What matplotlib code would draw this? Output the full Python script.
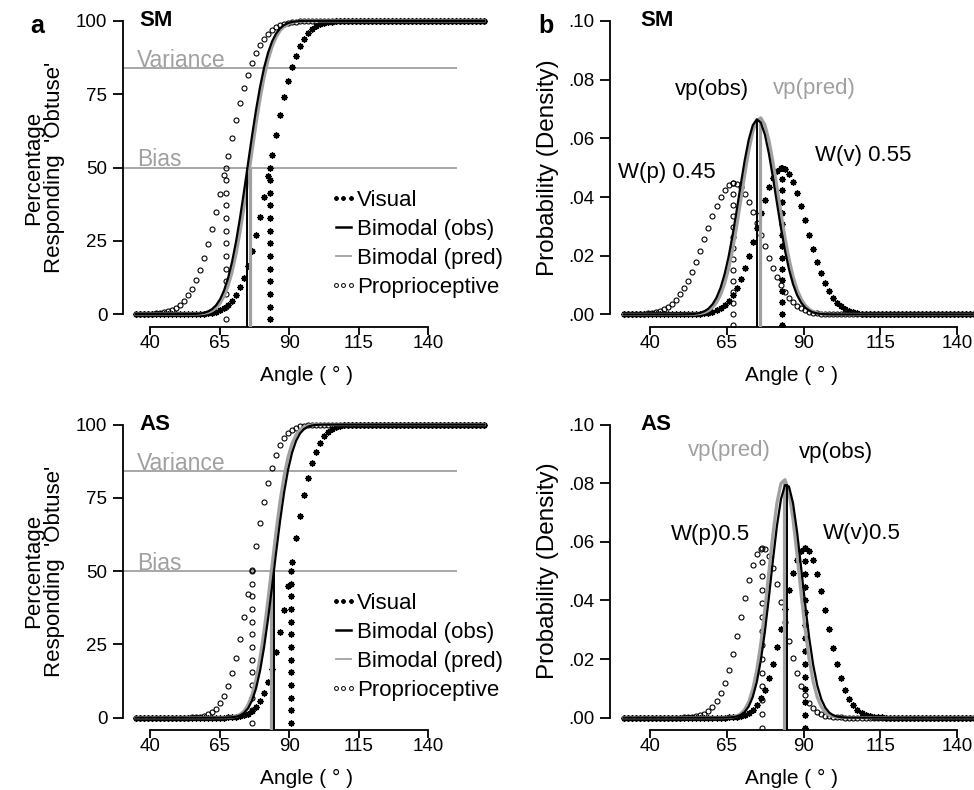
import math
import numpy as np
import matplotlib
matplotlib.use("Agg")
import matplotlib.pyplot as plt
from matplotlib.lines import Line2D
from matplotlib.legend_handler import HandlerLine2D
from matplotlib import transforms

plt.rcParams["font.family"] = ["Liberation Sans", "DejaVu Sans"]

# Fitted cumulative-Gaussian parameters per subject (deg)
subjects = ["SM", "AS"]
visual_mu = [83.0, 90.5]
visual_sd = [8.0, 6.9]
prop_mu = [67.2, 76.6]
prop_sd = [8.9, 6.9]
obs_mu = [75.0, 84.5]
obs_sd = [6.0, 5.0]
pred_mu = [75.8, 83.6]
pred_sd = [5.95, 4.9]

# weight labels shown in panel b
w_p_labels = ["W(p) 0.45", "W(p)0.5"]
w_v_labels = ["W(v) 0.55", "W(v)0.5"]

# sampled angle ranges of the plotted curves
cdf_range = (35.0, 160.0)
pdf_range = (31.6, 145.5)
n_samples = 88

x_ticks = [40, 65, 90, 115, 140]
pct_ticks = [0, 25, 50, 75, 100]
dens_ticks = [0.0, 0.02, 0.04, 0.06, 0.08, 0.10]
dens_tick_labels = [".00", ".02", ".04", ".06", ".08", ".10"]

GRAY = "#a0a0a0"
AST = (8, 2, 0)


def norm_cdf(x, mu, sd):
    return np.array([0.5 * (1 + math.erf((v - mu) / (sd * math.sqrt(2)))) for v in x])


def norm_pdf(x, mu, sd):
    return np.exp(-0.5 * ((x - mu) / sd) ** 2) / (sd * math.sqrt(2 * math.pi))


def style_axis(ax, yticks, ylabels=None):
    for s in ["top", "right"]:
        ax.spines[s].set_visible(False)
    ax.spines["left"].set_bounds(yticks[0], yticks[-1])
    ax.spines["bottom"].set_bounds(x_ticks[0], x_ticks[-1])
    for s in ["left", "bottom"]:
        ax.spines[s].set_linewidth(1.3)
    ax.set_xticks(x_ticks)
    ax.set_yticks(yticks)
    if ylabels is not None:
        ax.set_yticklabels(ylabels)
    ax.tick_params(axis="x", direction="out", length=6, width=1.3, labelsize=13.5, pad=0)
    ax.tick_params(axis="y", direction="out", length=7, width=1.3, labelsize=13.5, pad=4)
    ax.set_xlabel("Angle ( ° )", fontsize=15, labelpad=10)


fig = plt.figure(figsize=(9.74, 7.9), dpi=100)

# axes positions in figure fractions
pos_a = [[0.126, 0.586, 0.377, 0.395], [0.126, 0.076, 0.377, 0.394]]
pos_b = [[0.626, 0.586, 0.374, 0.395], [0.626, 0.076, 0.374, 0.394]]
ylim_a = [(-4.4, 102), (-4.2, 102)]
ylim_b = [(-0.0043, 0.102), (-0.0042, 0.102)]

# annotation positions (data coords) in panel b
vp_obs_xy = [(48.1, 0.0765), (88.6, 0.0903)]
vp_pred_xy = [(80.0, 0.0771), (52.4, 0.0912)]
wp_xy = [(29.6, 0.0485), (47.0, 0.0626)]
wv_xy = [(93.7, 0.0543), (96.2, 0.0628)]

xa = np.linspace(*cdf_range, n_samples)
xb = np.linspace(*pdf_range, n_samples)

star_kw = dict(ls="none", marker=AST, ms=4.5, mew=1.0, color="k", zorder=3)
circ_kw = dict(ls="none", marker="o", ms=3.6, mfc="none", mec="k", mew=0.8, zorder=3)

for i, subj in enumerate(subjects):
    # ---- panel a: psychometric functions ----
    ax = fig.add_axes(pos_a[i])
    ax.set_xlim(30.2, 162.1)
    ax.set_ylim(*ylim_a[i])
    y0 = ylim_a[i][0]

    ax.hlines([84, 50], 30.2, 150.3, color=GRAY, lw=1.3, zorder=1)
    ax.text(35.2, 84.4, "Variance", color=GRAY, fontsize=16.5, va="baseline", zorder=1)
    ax.text(35.2, 50.4, "Bias", color=GRAY, fontsize=16.5, va="baseline", zorder=1)

    vis = 100 * norm_cdf(xa, visual_mu[i], visual_sd[i])
    prop = 100 * norm_cdf(xa, prop_mu[i], prop_sd[i])
    obs = 100 * norm_cdf(xa, obs_mu[i], obs_sd[i])
    pred = 100 * norm_cdf(xa, pred_mu[i], pred_sd[i])

    col = np.linspace(-1.8, 50, 13)
    ax.plot(xa, vis, **star_kw)
    ax.plot([visual_mu[i]] * len(col), col, **star_kw)
    ax.plot(xa, prop, **circ_kw)
    ax.plot([prop_mu[i]] * len(col), col, **circ_kw)
    ax.plot(xa, pred, color=GRAY, lw=2.3, zorder=4)
    ax.vlines(pred_mu[i], y0, 50, color=GRAY, lw=2.3, zorder=4)
    ax.plot(xa, obs, color="k", lw=1.6, zorder=5)
    ax.vlines(obs_mu[i], y0, 50, color="k", lw=1.4, zorder=5)

    style_axis(ax, pct_ticks)
    ax.text(36.3, 100, subj, fontsize=16, fontweight="bold", va="center")
    tr = transforms.blended_transform_factory(ax.transAxes, ax.transData)
    ax.text(-0.215, 50, "Percentage\nResponding  'Obtuse'", transform=tr, rotation=90,
            ha="center", va="center", fontsize=16, linespacing=1.0, multialignment="center")

    handles = [
        Line2D([], [], ls="none", marker=AST, ms=3.2, mew=0.9, color="k"),
        Line2D([], [], color="k", lw=1.8),
        Line2D([], [], color=GRAY, lw=1.3),
        Line2D([], [], ls="none", marker="o", ms=2.8, mfc="none", mec="k", mew=0.7),
    ]
    ax.legend(handles, ["Visual", "Bimodal (obs)", "Bimodal (pred)", "Proprioceptive"],
              loc="upper left", bbox_to_anchor=(0.575, 0.44), frameon=False, fontsize=16,
              numpoints=3, handlelength=0.85, handletextpad=0.2, labelspacing=0.36,
              borderpad=0, borderaxespad=0,
              handler_map={Line2D: HandlerLine2D(marker_pad=0.08)})

    # ---- panel b: probability densities ----
    ax = fig.add_axes(pos_b[i])
    ax.set_xlim(27.0, 145.4)
    ax.set_ylim(*ylim_b[i])
    y0 = ylim_b[i][0]

    vis = norm_pdf(xb, visual_mu[i], visual_sd[i])
    prop = norm_pdf(xb, prop_mu[i], prop_sd[i])
    obs = norm_pdf(xb, obs_mu[i], obs_sd[i])
    pred = norm_pdf(xb, pred_mu[i], pred_sd[i])

    vpk = norm_pdf(visual_mu[i], visual_mu[i], visual_sd[i])
    ppk = norm_pdf(prop_mu[i], prop_mu[i], prop_sd[i])
    col_v = np.linspace(-0.0035, vpk, 15)
    col_p = np.linspace(-0.0035, ppk, 14)
    ax.plot(xb, vis, **star_kw)
    ax.plot([visual_mu[i]] * len(col_v), col_v, **star_kw)
    ax.plot(xb, prop, **circ_kw)
    ax.plot([prop_mu[i]] * len(col_p), col_p, **circ_kw)
    ax.plot(xb, pred, color=GRAY, lw=2.3, zorder=4)
    ax.vlines(pred_mu[i], y0, norm_pdf(pred_mu[i], pred_mu[i], pred_sd[i]), color=GRAY, lw=2.3, zorder=4)
    ax.plot(xb, obs, color="k", lw=1.6, zorder=5)
    ax.vlines(obs_mu[i], y0, norm_pdf(obs_mu[i], obs_mu[i], obs_sd[i]), color="k", lw=1.4, zorder=5)

    style_axis(ax, dens_ticks, dens_tick_labels)
    ax.text(37.0, 0.10, subj, fontsize=16, fontweight="bold", va="center")
    tr = transforms.blended_transform_factory(ax.transAxes, ax.transData)
    ax.text(-0.17, 0.05, "Probability (Density)", transform=tr, rotation=90,
            ha="center", va="center", fontsize=17.5)

    ax.text(*vp_obs_xy[i], "vp(obs)", fontsize=16, va="center")
    ax.text(*vp_pred_xy[i], "vp(pred)", fontsize=16, va="center", color=GRAY)
    ax.text(*wp_xy[i], w_p_labels[i], fontsize=16, va="center")
    ax.text(*wv_xy[i], w_v_labels[i], fontsize=16, va="center")

fig.text(30 / 974, 1 - 33 / 790, "a", fontsize=18, fontweight="bold", va="baseline")
fig.text(538 / 974, 1 - 33 / 790, "b", fontsize=18, fontweight="bold", va="baseline")

fig.savefig("out.png", dpi=100)
